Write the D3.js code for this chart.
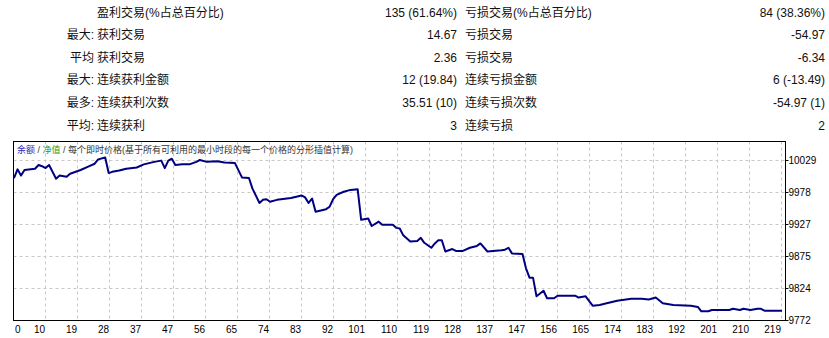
<!DOCTYPE html>
<html>
<head>
<meta charset="utf-8">
<script src="https://cdn.jsdelivr.net/npm/d3@7"></script>
<style>
  body { margin: 0; background: #fff; }
  svg text { font-family: "Liberation Sans", "Noto Sans CJK SC", sans-serif; }
</style>
</head>
<body>
<div id="report"></div>
<script>
// summary table
var rowPrefix = ["", "最大:", "平均", "最大:", "最多:", "平均:"];
var winLabels = ["盈利交易(%占总百分比)", "获利交易", "获利交易", "连续获利金额", "连续获利次数", "连续获利"];
var winValues = ["135 (61.64%)", "14.67", "2.36", "12 (19.84)", "35.51 (10)", "3"];
var lossLabels = ["亏损交易(%占总百分比)", "亏损交易", "亏损交易", "连续亏损金额", "连续亏损次数", "连续亏损"];
var lossValues = ["84 (38.36%)", "-54.97", "-6.34", "6 (-13.49)", "-54.97 (1)", "2"];

// balance curve (trade number, balance)
var tradeIdx = [0, 1, 2, 3, 6, 7, 8, 9, 10, 12, 13, 15, 16, 18, 19, 21, 23, 24, 26, 27, 28, 30, 32, 35, 37, 40, 42, 43, 44, 45, 46, 48, 50, 52, 53, 55, 58, 60, 63, 65, 67, 68, 70, 71, 72, 73, 75, 79, 82, 83, 84, 85, 86, 89, 90, 91, 92, 94, 96, 98, 99, 101, 102, 104, 105, 108, 109, 110, 111, 113, 115, 116, 117, 119, 120, 121, 122, 123, 125, 126, 128, 130, 132, 133, 135, 139, 140, 141, 142, 145, 146, 147, 148, 149, 151, 152, 154, 155, 160, 161, 163, 165, 167, 169, 172, 176, 179, 181, 183, 185, 188, 193, 195, 196, 198, 199, 204, 205, 207, 208, 210, 212, 213, 214, 219];
var balance = [10000, 10014, 10004, 10013, 10015, 10021, 10019, 10016, 10021, 9999, 10004, 10002, 10007, 10011, 10013, 10018, 10023, 10030, 10033, 10008, 10010, 10012, 10015, 10017, 10022, 10026, 10028, 10016, 10028, 10031, 10021, 10022, 10022, 10026, 10029, 10026, 10027, 10025, 10024, 10001, 10000, 9983, 9960, 9965, 9966, 9962, 9965, 9968, 9972, 9969, 9960, 9967, 9946, 9950, 9954, 9966, 9973, 9978, 9981, 9982, 9933, 9935, 9923, 9930, 9925, 9925, 9920, 9919, 9908, 9898, 9899, 9904, 9896, 9888, 9895, 9900, 9900, 9882, 9886, 9883, 9883, 9888, 9891, 9895, 9882, 9884, 9885, 9888, 9879, 9878, 9855, 9840, 9840, 9810, 9819, 9807, 9807, 9811, 9811, 9808, 9810, 9795, 9796, 9799, 9803, 9806, 9806, 9805, 9808, 9799, 9796, 9795, 9793, 9786, 9786, 9788, 9788, 9790, 9788, 9790, 9788, 9790, 9790, 9787, 9787];

var xTickLabels = ["0", "10", "19", "28", "37", "47", "56", "65", "74", "83", "92", "101", "110", "119", "128", "137", "147", "156", "165", "174", "183", "192", "201", "210", "219"];
var yTickValues = [9772, 9824, 9875, 9927, 9978, 10029];

var svgWidth = 829, svgHeight = 338;
var svg = d3.select("#report").append("svg").attr("width", svgWidth).attr("height", svgHeight);

// ---- table ----
var rowY = d3.scalePoint().domain(d3.range(rowPrefix.length)).range([16.5, 129.5]);
var table = svg.append("g").attr("font-size", 12).attr("fill", "#111");

function column(arr, x, anchor) {
    table.selectAll(null).data(arr).enter().append("text")
        .attr("x", x)
        .attr("y", function (d, i) { return rowY(i); })
        .attr("text-anchor", anchor)
        .text(function (d) { return d; });
}
column(rowPrefix, 94, "end");
column(winLabels, 97, "start");
column(winValues, 457, "end");
column(lossLabels, 465, "start");
column(lossValues, 825, "end");

// ---- chart ----
var plotLeft = 13.5, plotRight = 785.5, plotTop = 141.5, plotBottom = 320.5;

var x = d3.scaleLinear().domain([0, 219]).range([14, 782]);
var xTick = d3.scalePoint().domain(xTickLabels).range([14, 782]);
var y = d3.scaleLinear().domain([9772, 10029]).range([320, 160]);

var chart = svg.append("g");

// grid
chart.selectAll(".vgrid").data(xTickLabels.slice(1)).enter().append("line")
    .attr("x1", function (d) { return Math.round(xTick(d)) - 0.5; })
    .attr("x2", function (d) { return Math.round(xTick(d)) - 0.5; })
    .attr("y1", plotTop).attr("y2", plotBottom)
    .attr("stroke", "#c8c8c8").attr("stroke-dasharray", "3,3");

chart.selectAll(".hgrid").data(yTickValues.slice(1)).enter().append("line")
    .attr("x1", plotLeft).attr("x2", plotRight)
    .attr("y1", function (d) { return Math.round(y(d)) + 0.5; })
    .attr("y2", function (d) { return Math.round(y(d)) + 0.5; })
    .attr("stroke", "#c8c8c8").attr("stroke-dasharray", "3,3");

// frame
chart.append("rect").attr("x", plotLeft).attr("y", plotTop)
    .attr("width", plotRight - plotLeft).attr("height", plotBottom - plotTop)
    .attr("fill", "none").attr("stroke", "#000");

// y labels
var yAxis = chart.append("g").attr("font-size", 10).attr("fill", "#000");
yAxis.selectAll("line").data(yTickValues).enter().append("line")
    .attr("x1", plotRight).attr("x2", plotRight + 3)
    .attr("y1", function (d) { return Math.round(y(d)) + 0.5; })
    .attr("y2", function (d) { return Math.round(y(d)) + 0.5; })
    .attr("stroke", "#000");
yAxis.selectAll("text").data(yTickValues).enter().append("text")
    .attr("x", plotRight + 3)
    .attr("y", function (d) { return y(d) + 4; })
    .text(function (d) { return d; });

// x labels
chart.append("g").attr("font-size", 10).attr("fill", "#000")
    .selectAll("text").data(xTickLabels).enter().append("text")
    .attr("x", function (d, i) { return i === 0 ? xTick(d) + 1 : xTick(d) - 1; })
    .attr("y", 333)
    .attr("text-anchor", function (d, i) { return i === 0 ? "start" : "end"; })
    .text(function (d) { return d; });

// legend
var legend = chart.append("text").attr("x", 17).attr("y", 153).attr("font-size", 9).attr("fill", "#333");
legend.append("tspan").attr("fill", "#2a2ab8").text("余额");
legend.append("tspan").text(" / ");
legend.append("tspan").attr("fill", "#20a020").text("净值");
legend.append("tspan").text(" / 每个即时价格(基于所有可利用的最小时段的每一个价格的分形插值计算)");

// balance line
var line = d3.line()
    .x(function (d, i) { return x(tradeIdx[i]); })
    .y(function (d) { return y(d); });

chart.append("path").datum(balance)
    .attr("d", line)
    .attr("fill", "none")
    .attr("stroke", "#000080")
    .attr("stroke-width", 2)
    .attr("stroke-linejoin", "round");
</script>
</body>
</html>
